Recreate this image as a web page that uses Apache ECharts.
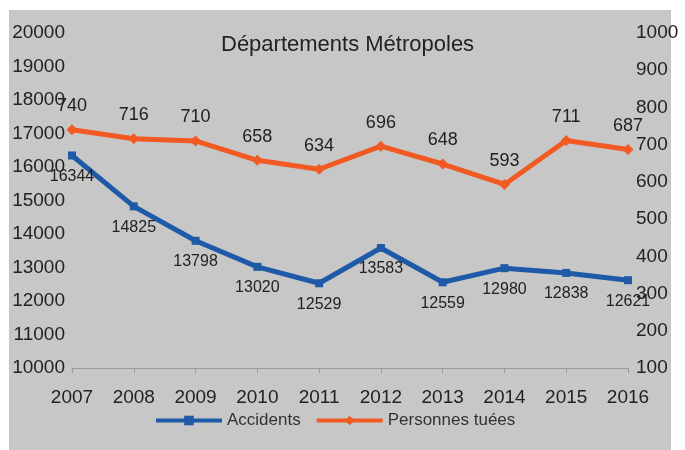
<!DOCTYPE html>
<html>
<head>
<meta charset="utf-8">
<script src="https://cdn.jsdelivr.net/npm/echarts@6/dist/echarts.min.js"></script>
<style>
  html, body { margin: 0; padding: 0; background: #ffffff; }
  #chart { width: 685px; height: 450px; }
</style>
</head>
<body>
<div id="chart"></div>
<script>
// Road safety figures, metropolitan départements
const years = ['2007', '2008', '2009', '2010', '2011', '2012', '2013', '2014', '2015', '2016'];
const accidents = [16344, 14825, 13798, 13020, 12529, 13583, 12559, 12980, 12838, 12621];
const tues = [740, 716, 710, 658, 634, 696, 648, 593, 711, 687];

const FONT = '"Liberation Sans", Arial, sans-serif';
const BLUE = '#1f5aa8';
const ORANGE = '#f15a22';
const INK = '#222222';

const plain = v => String(v);

const chart = echarts.init(document.getElementById('chart'), null, { renderer: 'canvas' });

chart.setOption({
  backgroundColor: '#ffffff',
  animation: false,
  graphic: [{
    type: 'rect',
    z: -100,
    silent: true,
    shape: { x: 9, y: 10, width: 662, height: 440 },
    style: { fill: '#c7c7c7' }
  }],
  title: {
    text: 'Départements Métropoles',
    left: 216,
    top: 29,
    textStyle: { fontFamily: FONT, fontSize: 22, fontWeight: 'normal', color: INK }
  },
  legend: {
    bottom: 16,
    left: 149,
    itemWidth: 66,
    itemHeight: 12,
    itemGap: 14,
    lineStyle: { width: 4 },
    textStyle: { fontFamily: FONT, fontSize: 17, color: '#333' },
    data: ['Accidents', 'Personnes tuées']
  },
  grid: { left: 72, right: 57, top: 33, bottom: 82 },
  xAxis: {
    type: 'category',
    data: years,
    boundaryGap: false,
    axisLine: { lineStyle: { color: '#9a9a9a', width: 1 } },
    axisTick: { show: true, alignWithLabel: true, length: 5, lineStyle: { color: '#9a9a9a' } },
    axisLabel: { fontFamily: FONT, fontSize: 19, color: INK, margin: 20 },
    splitLine: { show: false }
  },
  yAxis: [
    {
      type: 'value',
      min: 10000, max: 20000, interval: 1000,
      position: 'left',
      axisLine: { show: false },
      axisTick: { show: false },
      splitLine: { show: false },
      axisLabel: { fontFamily: FONT, fontSize: 19, color: INK, margin: 7, align: 'right', formatter: plain }
    },
    {
      type: 'value',
      min: 100, max: 1000, interval: 100,
      position: 'right',
      axisLine: { show: false },
      axisTick: { show: false },
      splitLine: { show: false },
      axisLabel: { fontFamily: FONT, fontSize: 19, color: INK, margin: 8, align: 'left', formatter: plain }
    }
  ],
  series: [
    {
      name: 'Accidents',
      type: 'line',
      yAxisIndex: 0,
      data: accidents,
      symbol: 'rect',
      symbolSize: 8,
      lineStyle: { color: BLUE, width: 5 },
      itemStyle: { color: BLUE },
      label: {
        show: true, position: 'bottom', distance: 9,
        fontFamily: FONT, fontSize: 16, color: INK, formatter: p => plain(p.value)
      }
    },
    {
      name: 'Personnes tuées',
      type: 'line',
      yAxisIndex: 1,
      data: tues,
      symbol: 'diamond',
      symbolSize: 11,
      lineStyle: { color: ORANGE, width: 5 },
      itemStyle: { color: ORANGE },
      label: {
        show: true, position: 'top', distance: 9,
        fontFamily: FONT, fontSize: 18, color: INK, formatter: p => plain(p.value)
      }
    }
  ]
});
</script>
</body>
</html>
